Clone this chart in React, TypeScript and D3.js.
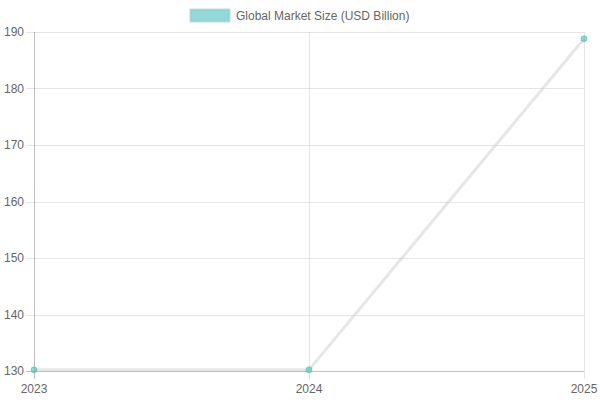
import * as d3 from "d3"

const years = ["2023", "2024", "2025"]
const marketSize = [130.2, 130.2, 188.8]
const yTicks = [130, 140, 150, 160, 170, 180, 190]
const seriesLabel = "Global Market Size (USD Billion)"

export default function App() {
  const width = 600
  const height = 400
  const margin = {top: 32, right: 16, bottom: 29, left: 34}
  const innerW = width - margin.left - margin.right
  const innerH = height - margin.top - margin.bottom

  const x = d3.scalePoint().domain(years).range([0, innerW])
  const y = d3.scaleLinear().domain([130, 190]).range([innerH, 0])

  const line = d3
    .line<number>()
    .x((_, i) => x(years[i]) as number)
    .y((d) => y(d))

  const font = "'Liberation Sans', Arial, Helvetica, sans-serif"

  return (
    <svg
      width={width}
      height={height}
      style={{position: "absolute", left: 0, top: 0}}
      fontFamily={font}
    >
      {/* legend */}
      <g>
        <rect x={190.5} y={9.5} width={39} height={12} fill="rgba(75,192,192,0.6)" stroke="rgba(150,200,200,0.6)" strokeWidth={2} />
        <text x={236} y={20} fontSize={12} fill="#666">
          {seriesLabel}
        </text>
      </g>

      <g transform={`translate(${margin.left},${margin.top})`}>
        {/* horizontal grid */}
        {yTicks.map((t) => (
          <g key={t}>
            <line x1={-8} x2={innerW} y1={Math.round(y(t)) + 0.5} y2={Math.round(y(t)) + 0.5} stroke={t === 130 ? "rgba(0,0,0,0.25)" : "rgba(0,0,0,0.1)"} />
            <text x={-10} y={y(t)} dy="0.35em" textAnchor="end" fontSize={12} fill="#666">
              {t}
            </text>
          </g>
        ))}
        {/* vertical grid */}
        {years.map((yr, i) => (
          <g key={yr}>
            <line x1={Math.round(x(yr) as number) + 0.5} x2={Math.round(x(yr) as number) + 0.5} y1={0} y2={innerH + 8} stroke={i === 0 ? "rgba(0,0,0,0.25)" : "rgba(0,0,0,0.1)"} />
            <text x={x(yr)} y={innerH + 22} textAnchor="middle" fontSize={12} fill="#666">
              {yr}
            </text>
          </g>
        ))}

        <path d={line(marketSize) ?? ""} fill="none" stroke="rgba(200,200,200,0.45)" strokeWidth={3} />
        {marketSize.map((v, i) => (
          <circle key={i} cx={x(years[i])} cy={y(v)} r={3} fill="rgba(75,192,170,0.6)" stroke="rgba(75,192,170,0.6)" strokeWidth={1} />
        ))}
      </g>
    </svg>
  )
}
